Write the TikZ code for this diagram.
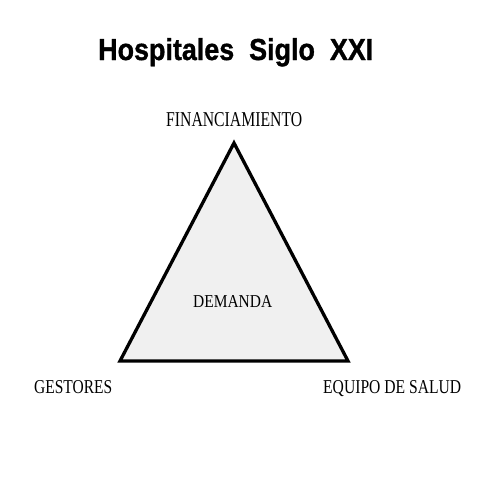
\documentclass[tikz,border=0pt]{standalone}
\usepackage{fontspec}
\setmainfont{Liberation Serif}
\newfontfamily\titlefont[FakeBold=1.2]{Liberation Sans Bold}
\usepackage{graphicx}
\begin{document}
\begin{tikzpicture}[x=1pt,y=-1pt,
  lbl/.style={inner sep=0pt,anchor=base west},
  tri/.style={draw=black,line width=3.3pt,fill=gray!12,line join=miter}]
\useasboundingbox (0,0) rectangle (480,480);
\coordinate (A) at (234,143);
\coordinate (B) at (120,361);
\coordinate (C) at (348,361);
\draw[tri] (A) -- (B) -- (C) -- cycle;
\node[lbl] (title) at (98,60) {\resizebox{275pt}{22pt}{\titlefont Hospitales\ \ Siglo\ \ XXI}};
\node[lbl] (fin) at (166,126) {\resizebox{136pt}{14pt}{FINANCIAMIENTO}};
\node[lbl] (dem) at (193,307) {\resizebox{79pt}{12pt}{DEMANDA}};
\node[lbl] (ges) at (34,393) {\resizebox{78pt}{13pt}{GESTORES}};
\node[lbl] (eq) at (323,393) {\resizebox{138pt}{13pt}{EQUIPO DE SALUD}};
\end{tikzpicture}
\end{document}
